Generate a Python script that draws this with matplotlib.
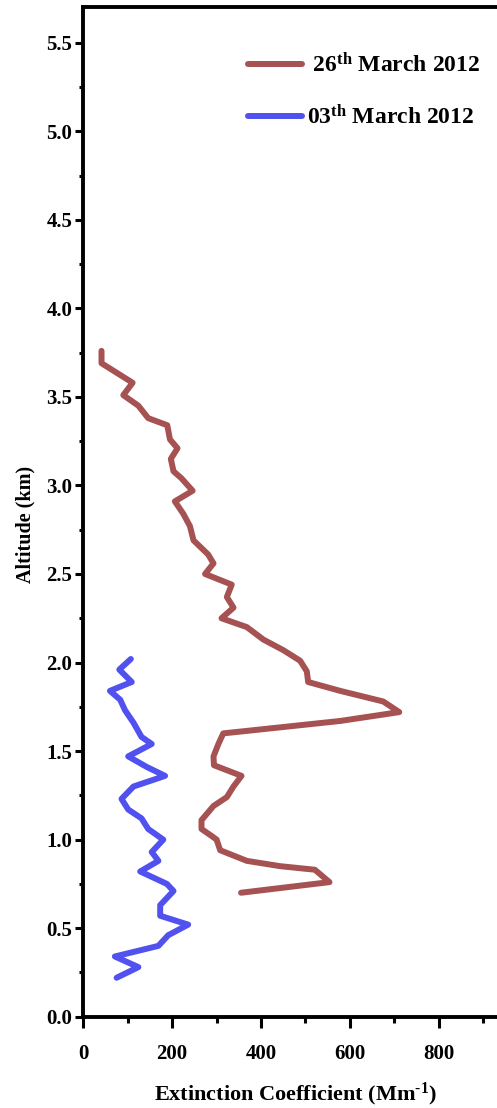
import numpy as np
import matplotlib
matplotlib.use("Agg")
import matplotlib.pyplot as plt
from matplotlib.ticker import MultipleLocator, FormatStrFormatter

# ====================== DATA ======================
# 26th March 2012 profile (extinction in Mm-1, altitude in km), top -> bottom
mar26_ext = [41, 41, 111, 90, 124, 146, 189, 195, 212, 197, 203, 221, 246, 206, 225, 240,
             248, 281, 293, 274, 334, 323, 338, 311, 368, 405, 450, 488, 503, 506, 578,
             675, 711, 578, 353, 315, 304, 293, 294, 356, 338, 323, 293, 266, 266, 289,
             300, 308, 368, 443, 521, 554, 355]
mar26_alt = [3.76, 3.69, 3.58, 3.51, 3.45, 3.38, 3.34, 3.26, 3.21, 3.15, 3.08, 3.04, 2.97,
             2.91, 2.84, 2.77, 2.69, 2.61, 2.56, 2.50, 2.44, 2.37, 2.31, 2.25, 2.20, 2.13,
             2.07, 2.01, 1.95, 1.89, 1.84, 1.78, 1.72, 1.67, 1.61, 1.60, 1.54, 1.47, 1.42,
             1.36, 1.30, 1.24, 1.19, 1.11, 1.06, 1.02, 1.00, 0.94, 0.88, 0.85, 0.83, 0.76,
             0.70]

# 03rd March 2012 profile
mar03_ext = [107, 81, 109, 60, 83, 94, 113, 131, 154, 101, 143, 184, 113, 86, 101, 131,
             146, 180, 154, 169, 128, 188, 203, 173, 173, 236, 191, 169, 71, 124, 75]
mar03_alt = [2.02, 1.96, 1.89, 1.84, 1.79, 1.73, 1.66, 1.58, 1.54, 1.47, 1.41, 1.36, 1.30,
             1.23, 1.17, 1.12, 1.06, 1.00, 0.93, 0.88, 0.82, 0.75, 0.71, 0.63, 0.57, 0.52,
             0.46, 0.40, 0.34, 0.28, 0.22]

labels = [r' 26$^{\mathrm{th}}$ March 2012', r'03$^{\mathrm{th}}$ March 2012']
colors = ['#a65252', '#5151ef']

# ====================== STYLE ======================
plt.rcParams['font.family'] = ['Liberation Serif', 'DejaVu Serif']
plt.rcParams['font.weight'] = 'bold'
plt.rcParams['mathtext.fontset'] = 'custom'
plt.rcParams['mathtext.rm'] = 'Liberation Serif:bold'
plt.rcParams['mathtext.it'] = 'Liberation Serif:bold'
plt.rcParams['mathtext.bf'] = 'Liberation Serif:bold'

fig = plt.figure(figsize=(4.97, 11.08), dpi=100)
# axes runs past the right edge of the picture, like the cropped original
ax = fig.add_axes([0.1676, 0.0824, 0.87, 0.911])

ax.plot(mar26_ext, mar26_alt, color=colors[0], lw=4.3, solid_joinstyle='round',
        solid_capstyle='round', label=labels[0])
ax.plot(mar03_ext, mar03_alt, color=colors[1], lw=4.3, solid_joinstyle='round',
        solid_capstyle='round', label=labels[1])

ax.set_xlim(0, 973)
ax.set_ylim(0, 5.7)
ax.xaxis.set_major_locator(MultipleLocator(200))
ax.xaxis.set_minor_locator(MultipleLocator(100))
ax.yaxis.set_major_locator(MultipleLocator(0.5))
ax.yaxis.set_minor_locator(MultipleLocator(0.25))
ax.yaxis.set_major_formatter(FormatStrFormatter('%.1f'))

for s in ax.spines.values():
    s.set_linewidth(2.8)
ax.tick_params(axis='both', which='major', width=2.2, labelsize=15)
ax.tick_params(axis='y', which='major', length=6, pad=2)
ax.tick_params(axis='y', which='minor', length=3, width=2.2)
ax.tick_params(axis='x', which='major', length=8, pad=12)
ax.tick_params(axis='x', which='minor', length=4, width=2.2)

ax.set_xlabel(r'Extinction Coefficient (Mm$^{\text{-}\mathrm{1}}$)', fontsize=16, fontweight='bold')
ax.set_ylabel('Altitude (km)', fontsize=14.5, fontweight='bold')
ax.xaxis.set_label_coords(0.49, -0.063)
ax.yaxis.set_label_coords(-0.11, 0.488)

ax.legend(loc='upper left', bbox_to_anchor=(0.499, 0.952), bbox_transform=fig.transFigure,
          frameon=False, borderpad=0, borderaxespad=0, handlelength=2.3,
          handletextpad=0.2, labelspacing=1.15, prop={'size': 17, 'weight': 'bold'})

plt.savefig('out.png', dpi=100)
plt.close()
